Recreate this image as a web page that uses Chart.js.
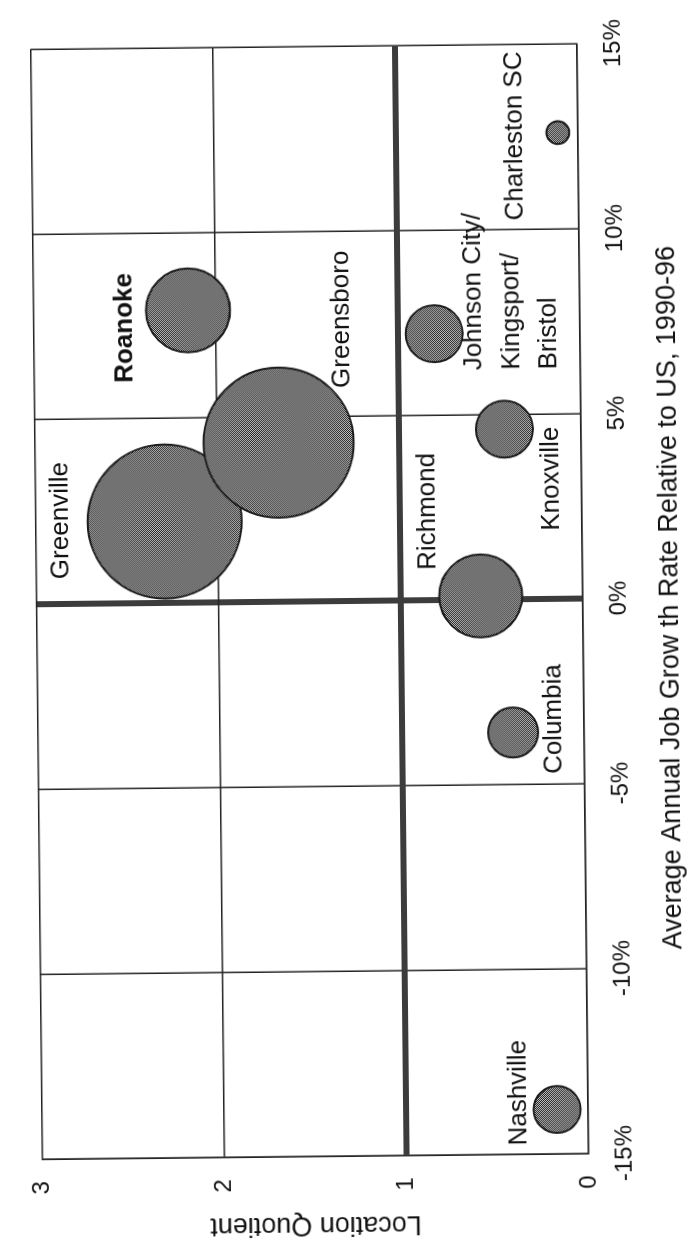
<!DOCTYPE html>
<html>
<head>
<meta charset="utf-8">
<title>Location Quotient vs Job Growth</title>
<script src="https://cdn.jsdelivr.net/npm/chart.js@4.4.1/dist/chart.umd.min.js"></script>
<style>
  html, body { margin: 0; padding: 0; background: #fff; }
  body { width: 697px; height: 1247px; overflow: hidden; position: relative; }
  /* the chart is laid out landscape and turned on its side */
  #chart {
    position: absolute; left: -275px; top: 275px;
    width: 1247px; height: 697px;
    transform: rotate(-90.6deg);
  }
</style>
</head>
<body>
<canvas id="chart" width="1247" height="697"></canvas>
<script>
const cities = [
    ['Greenville'],
    ['Greensboro'],
    ['Roanoke'],
    ['Johnson City/', 'Kingsport/', 'Bristol'],
    ['Knoxville'],
    ['Richmond'],
    ['Columbia'],
    ['Nashville'],
    ['Charleston SC']
];
const jobGrowth = [2.2, 4.3, 7.9, 7.2, 4.6, 0.1, -3.6, -13.8, 12.6];
const locationQuotient = [2.29, 1.66, 2.15, 0.80, 0.42, 0.56, 0.39, 0.17, 0.11];
const bubbleSize = [59.3, 56.3, 17.6, 8.1, 8.1, 17.2, 6.25, 5.5, 1.3];
const xTicks = [-15, -10, -5, 0, 5, 10, 15];
const yTicks = [0, 1, 2, 3];

// where each city name sits relative to its bubble
const labelLayout = [
    { dx: 2, dy: -104, align: 'center' },
    { dx: 54, dy: 64, align: 'left' },
    { dx: -17, dy: -63, align: 'center', bold: true },
    { dx: -37, dy: 40, align: 'left' },
    { dx: -50, dy: 46, align: 'center' },
    { dx: 85, dy: -52, align: 'center' },
    { dx: 13, dy: 41, align: 'center' },
    { dx: 17, dy: -38, align: 'center' },
    { dx: -3, dy: -43, align: 'center' }
];

const FONT = '"Liberation Sans", Arial, Helvetica, sans-serif';
Chart.defaults.font.family = FONT;
Chart.defaults.color = '#111';

// don't let big bubbles push the plot frame inwards
Chart.BubbleController.prototype.getMaxOverflow = function () { return 0; };

// fine checker fill for the bubbles
function hatch() {
    const c = document.createElement('canvas');
    c.width = 4; c.height = 4;
    const g = c.getContext('2d');
    g.fillStyle = '#c4c4c4';
    g.fillRect(0, 0, 4, 4);
    g.fillStyle = '#202020';
    for (let y = 0; y < 4; y++)
        for (let x = 0; x < 4; x++)
            if ((x + y) % 2 === 0) g.fillRect(x, y, 1, 1);
    return g.createPattern(c, 'repeat');
}

const cityLabels = {
    id: 'cityLabels',
    afterDatasetsDraw(chart) {
        const ctx = chart.ctx;
        const meta = chart.getDatasetMeta(0);
        ctx.save();
        ctx.fillStyle = '#111';
        ctx.textBaseline = 'middle';
        meta.data.forEach((pt, i) => {
            const lay = labelLayout[i];
            ctx.font = (lay.bold ? 'bold ' : '') + '26px ' + FONT;
            ctx.textAlign = lay.align;
            cities[i].forEach((line, k) => {
                ctx.fillText(line, pt.x + lay.dx, pt.y + lay.dy + k * 37.5);
            });
        });
        ctx.restore();
    }
};

const thick = (ctx, at) => ctx.tick && ctx.tick.value === at;

new Chart(document.getElementById('chart'), {
    type: 'bubble',
    data: {
        datasets: [{
            data: jobGrowth.map((x, i) => ({
                x: x,
                y: locationQuotient[i],
                r: Math.sqrt(bubbleSize[i]) * 10
            })),
            backgroundColor: hatch(),
            borderColor: '#1c1c1c',
            borderWidth: 2,
            clip: false
        }]
    },
    options: {
        responsive: false,
        animation: false,
        events: [],
        devicePixelRatio: 1,
        layout: { padding: { top: 17, right: 30, left: 0, bottom: 0 } },
        plugins: {
            legend: { display: false },
            tooltip: { enabled: false }
        },
        scales: {
            x: {
                type: 'linear',
                min: -15,
                max: 15,
                afterBuildTicks: s => { s.ticks = xTicks.map(v => ({ value: v })); },
                afterFit: s => { s.height = 114; },
                ticks: {
                    padding: 22,
                    font: { size: 24 },
                    callback: v => v + '%'
                },
                grid: {
                    drawTicks: false,
                    color: c => thick(c, 0) ? '#3c3c3c' : '#222',
                    lineWidth: c => thick(c, 0) ? 6 : 1.5
                },
                border: { color: '#222', width: 1.5 },
                title: {
                    display: true,
                    text: 'Average Annual Job Grow th Rate Relative to US, 1990-96',
                    font: { size: 27 },
                    padding: { top: 0, bottom: 10 }
                }
            },
            y: {
                type: 'linear',
                min: 0,
                max: 3,
                afterBuildTicks: s => { s.ticks = yTicks.map(v => ({ value: v })); },
                afterFit: s => { s.width = 91; },
                ticks: {
                    padding: 22,
                    font: { size: 24 }
                },
                grid: {
                    drawTicks: false,
                    color: c => thick(c, 1) ? '#3c3c3c' : '#222',
                    lineWidth: c => thick(c, 1) ? 6 : 1.5
                },
                border: { color: '#222', width: 1.5 },
                title: {
                    display: true,
                    text: 'Location Quotient',
                    font: { size: 27 },
                    padding: { top: 6, bottom: 0 }
                }
            }
        }
    },
    plugins: [cityLabels]
});
</script>
</body>
</html>
